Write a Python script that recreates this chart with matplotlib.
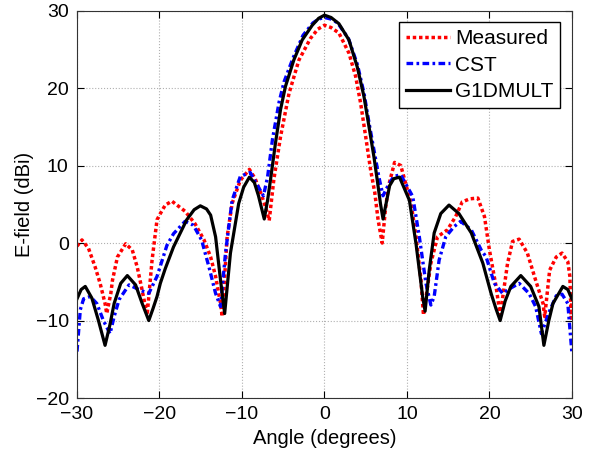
import numpy as np
import matplotlib
matplotlib.use("Agg")
import matplotlib.pyplot as plt

plt.rcParams['font.family'] = ['Liberation Sans', 'DejaVu Sans']

# G1DMULT (black, solid)
ang_g1d = [-30, -29.5, -29, -28.2, -27.4, -26.6, -26.0, -25.5, -24.7, -23.9, -22.9, -22.1, -21.3, -20.8,
           -20.3, -19.9, -19.3, -18.3, -16.7, -15.8, -15.05, -14.3, -13.8, -13.2, -12.6, -12.1, -11.4,
           -10.4, -9.8, -9.1, -8.5, -8.0, -7.3, -6.9, -6.55, -5.94, -5.33, -4.73, -3.72, -2.7, -1.48,
           -0.7, 0, 0.8, 1.75, 2.97, 3.98, 4.79, 5.4, 6.0, 6.4, 6.8, 7.1, 7.9, 8.4, 9.1, 10.3, 11.1, 11.9,
           12.2, 12.7, 13.3, 14.1, 15.1, 16.3, 17.8, 19.2, 20.2, 20.8, 21.3, 21.9, 22.6, 23.8, 25, 26,
           26.6, 27.2, 27.7, 28.9, 29.5, 30]
e_g1d = [-7.2, -6.0, -5.6, -7.1, -10.0, -13.2, -10.5, -7.8, -5.2, -4.2, -5.4, -7.8, -10.0, -8.5,
         -6.9, -5.2, -3.3, -0.5, 3.0, 4.3, 4.8, 4.4, 3.6, 0.8, -4.8, -9.1, -1.3,
         5.1, 7.2, 8.5, 7.8, 6.1, 3.1, 5.5, 8.1, 12.9, 17.2, 20.2, 23.6, 26.2, 28.1,
         29.0, 29.4, 29.1, 28.3, 26.2, 22.7, 18.9, 15.0, 11.1, 8.1, 5.0, 3.1, 7.4, 8.3, 8.5, 5.5, -0.1, -6.9,
         -8.8, -3.5, 1.3, 3.8, 4.9, 3.8, 1.3, -2.6, -6.5, -8.5, -10, -7.5, -5.6, -4.2, -5.6, -8.2,
         -13.2, -10, -7.8, -5.6, -6.0, -7.2]

# CST (blue, dash-dot)
ang_cst = [-30, -29.6, -29.2, -28.4, -27.6, -26.8, -26, -25.5, -24.9, -23.7, -22.3, -21.3, -20.3, -19.1,
           -18.3, -16.9, -15.9, -14.9, -14.0, -13.2, -12.6, -12.0, -11.2, -10.2, -9.0, -8.0, -7.4, -6.9,
           -6.3, -5.5, -4.9, -3.8, -2.6, -1.4, -0.7, 0, 0.8, 1.6, 2.9, 4.0, 4.8, 5.4, 6.0, 6.6, 7.1, 7.7,
           8.4, 9.25, 10.7, 11.5, 12.3, 12.9, 13.3, 13.9, 14.7, 15.7, 16.5, 17.8, 19, 19.6, 20.6, 21.6,
           22.6, 23.6, 24.8, 25.6, 26.3, 27.2, 28.1, 28.8, 29.5, 30]
e_cst = [-14, -8.6, -7.2, -6.9, -7.8, -10, -11.7, -9.5, -7.3, -5.4, -6.1, -6.5, -4.3, -0.3,
         1.2, 2.8, 2.3, 0.4, -3.1, -6.5, -8.2, -1.3, 5.5, 8.6, 9.1, 7.2, 6.1, 8.5,
         13.4, 18.2, 20.8, 23.9, 26.8, 28.4, 28.9, 29.1, 28.9, 28.4, 26.4, 23.0, 19.3, 15.5, 12.0, 8.5, 6.1, 7.4,
         8.6, 8.8, 6.0, 0.8, -5.2, -8.0, -6.9, -2.2, 0.8, 2.1, 2.8, 1.7, -0.9, -1.8, -5.2, -6.5,
         -5.8, -5.2, -6.5, -8.2, -11.7, -9.0, -6.8, -6.6, -7.8, -14.2]

# Measured (red, dotted)
ang_meas = [-30, -29.4, -28.6, -27.8, -27.2, -26.6, -26.4, -25.9, -25.7, -25.1, -24.1, -23.3, -22.7, -22.1,
            -21.5, -20.9, -20.3, -19.9, -19.3, -18.5, -16.9, -15.7, -14.6, -13.8, -13.2, -12.6, -12.4,
            -11.8, -11.2, -10.2, -9.1, -8.4, -7.6, -7.1, -6.7, -6.15, -5.33, -4.3, -3.1, -1.7, -0.8, 0,
            0.8, 1.75, 2.97, 3.78, 4.39, 5.0, 5.6, 6.1, 6.5, 7.0, 7.4, 7.8, 8.5, 9.25, 10.5, 11.1, 11.7,
            12.0, 12.9, 13.7, 14.9, 15.9, 16.7, 17.6, 18.6, 19.4, 20.0, 20.8, 21.3, 22.2, 22.8, 23.6,
            24.6, 25.6, 26.5, 26.7, 27.3, 28.1, 28.8, 29.5, 29.75, 29.9, 30]
e_meas = [-0.4, 0.4, -0.7, -3.1, -5.2, -7.8, -9.1, -6.5, -4.8, -1.8, -0.1, -0.9, -3.1, -6.1,
          -9.3, -2.2, 3.0, 3.8, 4.9, 5.4, 4.1, 2.5, 0.4, -1.8, -4.3, -7.8, -9.5,
          0.8, 5.1, 8.1, 9.5, 8.3, 6.1, 4.5, 2.9, 8.1, 13.7, 19.3, 23.6, 26.4, 27.6, 28.1,
          27.8, 27.1, 24.5, 21.5, 18.0, 13.7, 9.4, 6.5, 3.0, 0.0, 4.5, 7.5, 10.4, 10.0, 5.1, 0.8, -4.8,
          -9.3, -2.6, 0.8, 1.7, 3.4, 5.3, 5.7, 5.8, 3.4, -0.9, -5.6, -9.3, -2.6, 0.2, 0.5,
          -1.3, -4.8, -7.8, -9.5, -3.5, -1.8, -1.3, -2.4, -4.3, -9.7, -7]

fig = plt.figure(figsize=(5.97, 4.57), dpi=100)
ax = fig.add_axes([0.129, 0.129, 0.829, 0.848])

ax.plot(ang_meas, e_meas, color='red', linestyle=(0, (1, 0.8)), linewidth=2.5, label='Measured')
ax.plot(ang_cst, e_cst, color='blue', linestyle=(0, (2, 1.0, 0.8, 1.0)), linewidth=2.4, label='CST')
ax.plot(ang_g1d, e_g1d, color='black', linestyle='-', linewidth=2.3, label='G1DMULT')

ax.set_xlim(-30, 30)
ax.set_ylim(-20, 30)
ax.set_xticks(np.arange(-30, 31, 10))
ax.set_yticks(np.arange(-20, 31, 10))
ax.grid(True, linestyle=':', color='#b0b0b0', linewidth=0.8)
ax.tick_params(direction='in', top=True, right=True, labelsize=14, length=5)
ax.tick_params(axis='x', pad=6)
ax.tick_params(axis='y', pad=6)
for s in ax.spines.values():
    s.set_color('#333333')

ax.set_xlabel('Angle (degrees)', fontsize=14.5, labelpad=4)
ax.set_ylabel('E-field (dBi)', fontsize=14.5, labelpad=1)

leg = ax.legend(loc='upper right', fontsize=15, handlelength=2.1, fancybox=False,
                framealpha=1, edgecolor='black', borderaxespad=0.55,
                handletextpad=0.25, labelspacing=0.35, borderpad=0.35)
leg.get_frame().set_linewidth(1.0)

fig.savefig('out.png', dpi=100)
